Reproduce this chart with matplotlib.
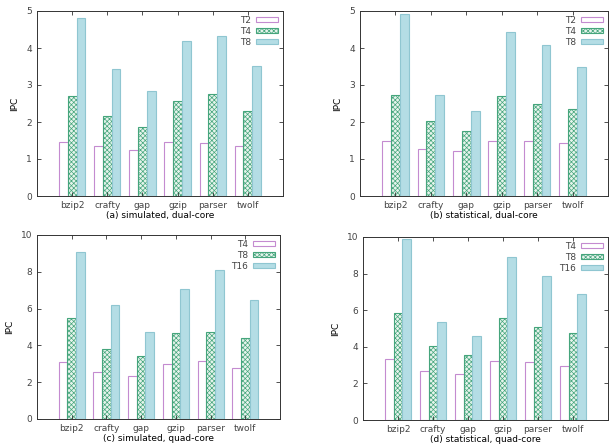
import numpy as np
import matplotlib
matplotlib.use("Agg")
import matplotlib.pyplot as plt

benchmarks = ["bzip2", "crafty", "gap", "gzip", "parser", "twolf"]

dual_labels = ["T2", "T4", "T8"]
quad_labels = ["T4", "T8", "T16"]

sim_dual = [
    [1.46, 1.34, 1.23, 1.46, 1.43, 1.34],
    [2.69, 2.17, 1.86, 2.57, 2.76, 2.30],
    [4.82, 3.43, 2.83, 4.20, 4.33, 3.51],
]
stat_dual = [
    [1.49, 1.28, 1.22, 1.49, 1.49, 1.43],
    [2.74, 2.02, 1.77, 2.69, 2.50, 2.36],
    [4.92, 2.72, 2.31, 4.44, 4.07, 3.49],
]
sim_quad = [
    [3.11, 2.53, 2.32, 2.97, 3.13, 2.79],
    [5.47, 3.82, 3.44, 4.65, 4.71, 4.42],
    [9.07, 6.17, 4.74, 7.04, 8.09, 6.48],
]
stat_quad = [
    [3.35, 2.69, 2.51, 3.24, 3.15, 2.97],
    [5.84, 4.07, 3.53, 5.57, 5.10, 4.75],
    [9.91, 5.38, 4.58, 8.91, 7.85, 6.87],
]

captions = [
    "(a) simulated, dual-core",
    "(b) statistical, dual-core",
    "(c) simulated, quad-core",
    "(d) statistical, quad-core",
]

W, H = 612, 445
# axes boxes in pixels: left, right, top, bottom
boxes = [
    (37, 283, 11, 196),
    (360, 608, 11, 196),
    (37, 280, 235, 419),
    (363, 608, 237, 420),
]

styles = [
    dict(facecolor="white", edgecolor="#c48bd0", hatch=None),
    dict(facecolor="#e6f4ec", edgecolor="#45a57c", hatch="xxxxxxx"),
    dict(facecolor="#b4dde5", edgecolor="#8fc6d1", hatch=None),
]

plt.rcParams.update({
    "font.family": "DejaVu Sans",
    "font.size": 6.5,
    "hatch.linewidth": 0.5,
    "text.color": "#444444",
    "xtick.color": "#333333",
    "ytick.color": "#333333",
    "xtick.labelcolor": "#444444",
    "ytick.labelcolor": "#444444",
})

fig = plt.figure(figsize=(W / 100, H / 100), dpi=100)

panels = [
    (sim_dual, dual_labels, 5, 1),
    (stat_dual, dual_labels, 5, 1),
    (sim_quad, quad_labels, 10, 2),
    (stat_quad, quad_labels, 10, 2),
]

x = np.arange(len(benchmarks))
width = 0.25

for (series, labels, ymax, ystep), box, cap in zip(panels, boxes, captions):
    l, r, t, b = box
    ax = fig.add_axes([l / W, 1 - b / H, (r - l) / W, (b - t) / H])
    for i, (vals, lab, st) in enumerate(zip(series, labels, styles)):
        ax.bar(x + (i - 1) * width, vals, width, label=lab,
               facecolor=st["facecolor"], edgecolor=st["edgecolor"],
               hatch=st["hatch"], linewidth=0.8)
    ax.set_xlim(-1, 6)
    ax.set_ylim(0, ymax)
    ax.set_xticks(x)
    ax.set_xticklabels(benchmarks)
    ax.set_yticks(np.arange(0, ymax + 0.1, ystep))
    ax.tick_params(direction="in", length=3, width=0.6, top=True, right=True,
                   labelsize=6.5, pad=3.5)
    for sp in ax.spines.values():
        sp.set_color("#333333")
        sp.set_linewidth(0.7)
    ax.set_ylabel("IPC", fontsize=6.5, labelpad=5)
    ax.set_xlabel(cap, fontsize=6.5, labelpad=0.5)
    ax.legend(loc="upper right", frameon=False, markerfirst=False,
              fontsize=6.5, handlelength=2.5, handleheight=0.45,
              labelspacing=0.25, handletextpad=0.5, borderaxespad=0.3,
              borderpad=0.2)

fig.savefig("out.png", dpi=100)
